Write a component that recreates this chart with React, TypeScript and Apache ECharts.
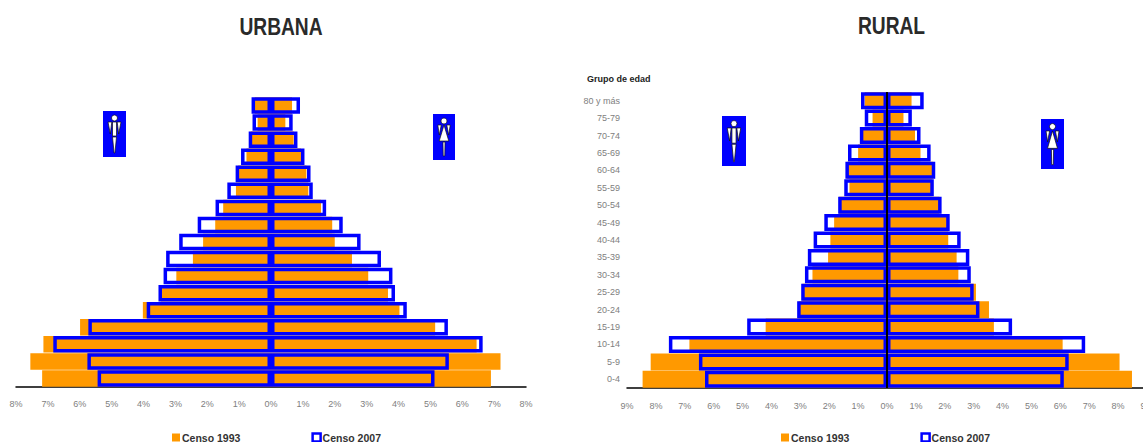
import React, { useEffect, useRef } from "react";
import * as echarts from "echarts";

const ageGroups = ["0-4","5-9","10-14","15-19","20-24","25-29","30-34","35-39","40-44","45-49","50-54","55-59","60-64","65-69","70-74","75-79","80 y más"];
const urbanMale1993 = [7.18,7.55,7.14,5.99,4.02,3.46,2.97,2.45,2.13,1.75,1.5,1.1,1.03,0.77,0.64,0.42,0.51];
const urbanFemale1993 = [6.9,7.2,6.45,5.15,4.03,3.67,3.05,2.54,2.0,1.92,1.57,1.17,1.11,0.94,0.71,0.45,0.66];
const urbanMale2007 = [5.44,5.76,6.83,5.73,3.9,3.53,3.37,3.29,2.88,2.3,1.74,1.37,1.11,0.94,0.7,0.58,0.61];
const urbanFemale2007 = [5.13,5.58,6.64,5.55,4.26,3.89,3.81,3.45,2.81,2.25,1.73,1.31,1.24,1.05,0.83,0.68,0.91];
const ruralMale1993 = [8.46,8.18,6.84,4.2,3.06,2.93,2.58,2.04,1.96,1.83,1.66,1.3,1.38,1.0,0.85,0.5,0.77];
const ruralFemale1993 = [8.48,8.05,6.08,3.7,3.53,3.08,2.47,2.41,2.12,2.07,1.81,1.55,1.6,1.16,0.97,0.57,0.85];
const ruralMale2007 = [6.3,6.51,7.55,4.84,3.11,2.97,2.84,2.74,2.54,2.17,1.69,1.48,1.44,1.35,0.94,0.77,0.9];
const ruralFemale2007 = [6.12,6.29,6.86,4.33,3.2,3.0,2.9,2.85,2.55,2.17,1.89,1.62,1.67,1.51,1.16,0.86,1.27];

const ORANGE = "#FF9900";
const BLUE = "#0000FF";
const FONT = "'Liberation Sans', Arial, sans-serif";
const S1993 = "Censo 1993";
const S2007 = "Censo 2007";

echarts.graphic.registerShape("manFigure", echarts.graphic.extendPath(
  "M9.5 11 L13.5 11 L13.5 25 L9.5 25 Z M8.8 11 L5 11 L7.3 23 Z M14.2 11 L18 11 L15.7 23 Z M9.5 26 L13.5 26 L11.9 42 L11.1 42 Z", {}));
echarts.graphic.registerShape("womanFigure", echarts.graphic.extendPath(
  "M11.5 11 L16.5 27 L6.5 27 Z M8.6 11 L5 11 L6.6 21 Z M14.4 11 L18 11 L16.4 21 Z M10.4 28 L12.6 28 L12.3 42 L10.7 42 Z", {}));

function icon(kind: string, x: number, y: number, w: number, h: number) {
  const sx = w / 23;
  const sy = h / 46;
  return {
    type: "group", x, y, silent: true,
    children: [
      { type: "rect", shape: { x: 0, y: 0, width: w, height: h }, style: { fill: BLUE } },
      { type: kind, scaleX: sx, scaleY: sy, style: { fill: "#fff", stroke: "#111", lineWidth: 0.7 } },
      { type: "circle", shape: { cx: 11.5 * sx, cy: 7 * sy, r: 3 }, style: { fill: "#fff", stroke: "#111", lineWidth: 0.7 } },
    ],
  };
}

function heading(text: string, x: number, y: number) {
  return {
    type: "text", x, y, scaleX: 0.8, silent: true,
    style: { text, align: "center", verticalAlign: "middle", fontSize: 24, fontWeight: "bold", fill: "#2a2a2a", fontFamily: FONT },
  };
}

function barPair(name: string, grid: number, male: number[], female: number[], outlined: boolean, width: number, extra: object = {}) {
  const style = outlined
    ? { color: "transparent", borderColor: BLUE, borderWidth: 3.5 }
    : { color: ORANGE };
  const base = {
    type: "bar", name, xAxisIndex: grid, yAxisIndex: grid, barWidth: width, barGap: "-100%",
    itemStyle: style, silent: true, z: outlined ? 3 : 2,
  };
  return [
    { ...base, data: male.map((v) => -v) },
    { ...base, data: female, ...extra },
  ];
}

function xAxis(grid: number, limit: number, margin: number) {
  return {
    type: "value", gridIndex: grid, min: -limit, max: limit, interval: 1,
    splitLine: { show: false }, axisTick: { show: false },
    axisLine: { show: true, lineStyle: { color: "#000", width: 1.5 } },
    axisLabel: {
      margin, fontSize: 9, color: "#808080", fontFamily: FONT,
      showMinLabel: true, showMaxLabel: true,
      formatter: (v: number) => `${Math.abs(v)}%`,
    },
  };
}

function yAxis(grid: number, labels: boolean) {
  return {
    type: "category", gridIndex: grid, data: ageGroups,
    axisLine: { show: false, onZero: false }, axisTick: { show: false },
    axisLabel: { show: labels, interval: 0, margin: 7, fontSize: 9, color: "#808080", fontFamily: FONT },
  };
}

function legend(left: number) {
  return {
    left, top: 427, itemWidth: 8, itemHeight: 8, itemGap: 71, selectedMode: false,
    textStyle: { fontSize: 10.5, fontWeight: "bold", color: "#333", fontFamily: FONT, padding: [0, 0, 0, -3] },
    data: [
      { name: S1993, icon: "rect", itemStyle: { color: ORANGE } },
      { name: S2007, icon: "rect", itemStyle: { color: "#fff", borderColor: BLUE, borderWidth: 2.5 } },
    ],
  };
}

export default function App() {
  const ref = useRef<HTMLDivElement>(null);
  useEffect(() => {
    const chart = echarts.init(ref.current!, null, { renderer: "svg" });
    const zeroLine = {
      markLine: {
        silent: true, symbol: "none", animation: false, label: { show: false },
        lineStyle: { color: "#000", width: 2, type: "solid" }, data: [{ xAxis: 0 }],
      },
    };
    chart.setOption({
      animation: false,
      backgroundColor: "#fff",
      legend: [legend(167), legend(776)],
      grid: [
        { left: 16, width: 510, top: 97, height: 290, outerBoundsMode: "none" },
        { left: 627, width: 520, top: 92, height: 296, outerBoundsMode: "none" },
      ],
      xAxis: [xAxis(0, 8, 12), xAxis(1, 9, 13)],
      yAxis: [yAxis(0, false), yAxis(1, true)],
      series: [
        ...barPair(S1993, 0, urbanMale1993, urbanFemale1993, false, 16.5),
        ...barPair(S2007, 0, urbanMale2007, urbanFemale2007, true, 16.5),
        ...barPair(S1993, 1, ruralMale1993, ruralFemale1993, false, 17),
        ...barPair(S2007, 1, ruralMale2007, ruralFemale2007, true, 17, zeroLine),
      ],
      graphic: [
        heading("URBANA", 281, 27),
        heading("RURAL", 891.5, 26),
        icon("manFigure", 103, 111, 23, 46),
        icon("womanFigure", 433, 114, 22, 46),
        icon("manFigure", 722, 116, 24, 50),
        icon("womanFigure", 1041, 119, 23, 50),
        { type: "text", x: 587, y: 74, style: { text: "Grupo de edad", fontSize: 9, fontWeight: "bold", fill: "#222", fontFamily: FONT } },
      ],
    });
    return () => chart.dispose();
  }, []);
  return <div ref={ref} style={{ position: "absolute", left: 0, top: 0, width: 1143, height: 442 }} />;
}
